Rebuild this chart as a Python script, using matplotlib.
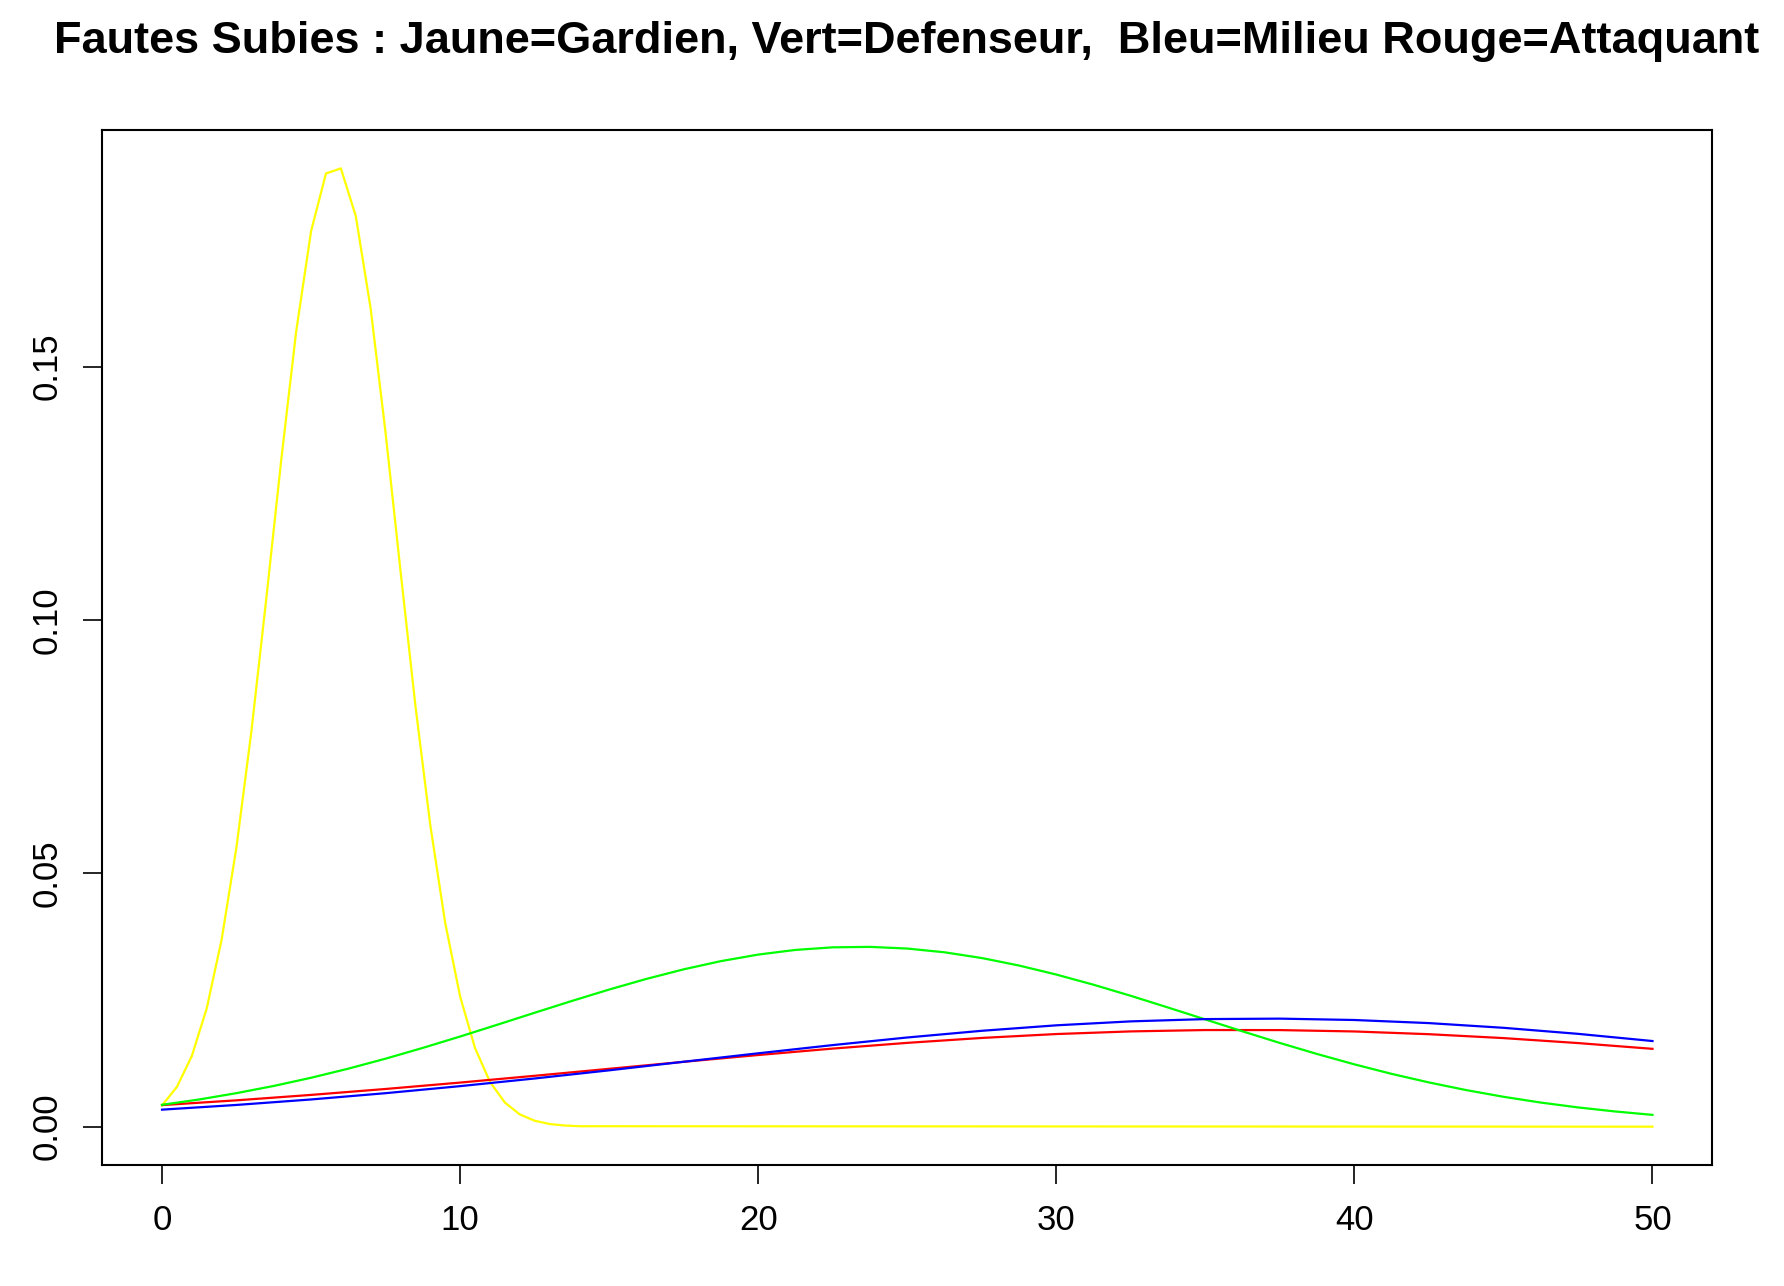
import numpy as np
import matplotlib
matplotlib.use("Agg")
import matplotlib.pyplot as plt

plt.rcParams['font.family'] = ['Liberation Sans', 'DejaVu Sans']

# Gardien (jaune) : pas de 0.5 de 0 a 14, puis nul jusqu'a 50
x_jaune = [0, 0.5, 1, 1.5, 2, 2.5, 3, 3.5, 4, 4.5, 5, 5.5, 6, 6.5, 7, 7.5,
           8, 8.5, 9, 9.5, 10, 10.5, 11, 11.5, 12, 12.5, 13, 13.5, 14, 50]
y_jaune = [0.00419, 0.00786, 0.01395, 0.02334, 0.03693, 0.05525, 0.0781,
           0.1043, 0.1316, 0.1569, 0.1767, 0.1881, 0.1891, 0.1797, 0.1614,
           0.1369, 0.1097, 0.0831, 0.0595, 0.0402, 0.0257, 0.01552, 0.00885,
           0.00477, 0.00243, 0.00117, 0.00053, 0.00023, 0.00009, 0.0]

# Defenseur (vert) : pas de 1.25
x_vert = [0, 1.25, 2.5, 3.75, 5, 6.25, 7.5, 8.75, 10, 11.25, 12.5, 13.75,
          15, 16.25, 17.5, 18.75, 20, 21.25, 22.5, 23.75, 25, 26.25, 27.5,
          28.75, 30, 31.25, 32.5, 33.75, 35, 36.25, 37.5, 38.75, 40, 41.25,
          42.5, 43.75, 45, 46.25, 47.5, 48.75, 50]
y_vert = [0.00432, 0.00537, 0.00662, 0.00804, 0.00965, 0.01145, 0.01342,
          0.01555, 0.01779, 0.02012, 0.02248, 0.02481, 0.02706, 0.02916,
          0.03105, 0.03267, 0.03396, 0.03488, 0.03539, 0.03548, 0.03515,
          0.03441, 0.03328, 0.0318, 0.03002, 0.02801, 0.02582, 0.02351,
          0.02116, 0.01881, 0.01652, 0.01434, 0.0123, 0.01042, 0.00873,
          0.00722, 0.0059, 0.00476, 0.0038, 0.0030, 0.00233]

# Milieu (bleu) et Attaquant (rouge) : pas de 2.5
x_autres = [0, 2.5, 5, 7.5, 10, 12.5, 15, 17.5, 20, 22.5, 25, 27.5, 30,
            32.5, 35, 37.5, 40, 42.5, 45, 47.5, 50]
y_bleu = [0.00336, 0.00429, 0.00537, 0.00661, 0.0080, 0.00951, 0.01112,
          0.01281, 0.01448, 0.0161, 0.0176, 0.01892, 0.0200, 0.02078,
          0.02123, 0.02132, 0.02105, 0.02044, 0.01951, 0.01832, 0.0169]
y_rouge = [0.00426, 0.0052, 0.00627, 0.00744, 0.0087, 0.01004, 0.01142,
           0.0128, 0.01414, 0.01541, 0.01654, 0.01751, 0.01828, 0.0188,
           0.01907, 0.01906, 0.01879, 0.01825, 0.01748, 0.0165, 0.01536]

x_ticks = [0, 10, 20, 30, 40, 50]
y_ticks = [0.0, 0.05, 0.10, 0.15]
y_labels = ['0.00', '0.05', '0.10', '0.15']

fig = plt.figure(figsize=(17.84, 12.86), dpi=100)
ax = fig.add_axes([0.0574, 0.0941, 0.9023, 0.8049])

ax.plot(x_jaune, y_jaune, color='#FFFF00', lw=1.6)
ax.plot(x_autres, y_rouge, color='#FF0000', lw=1.6)
ax.plot(x_vert, y_vert, color='#00FF00', lw=1.6)
ax.plot(x_autres, y_bleu, color='#0000FF', lw=1.6)

ax.set_xlim(-2, 52)
ax.set_ylim(-0.00756, 0.1967)
ax.set_xticks(x_ticks)
ax.set_xticklabels([str(t) for t in x_ticks])
ax.set_yticks(y_ticks)
ax.set_yticklabels(y_labels, rotation=90, va='center')
ax.tick_params(axis='both', direction='out', length=14, width=1.2,
               labelsize=25, pad=14)
for s in ax.spines.values():
    s.set_linewidth(1.5)

fig.text(0.508, 0.968, 'Fautes Subies : Jaune=Gardien, Vert=Defenseur,  Bleu=Milieu Rouge=Attaquant',
         ha='center', va='center', fontsize=32.5, fontweight='bold')

fig.savefig('out.png', dpi=100)
